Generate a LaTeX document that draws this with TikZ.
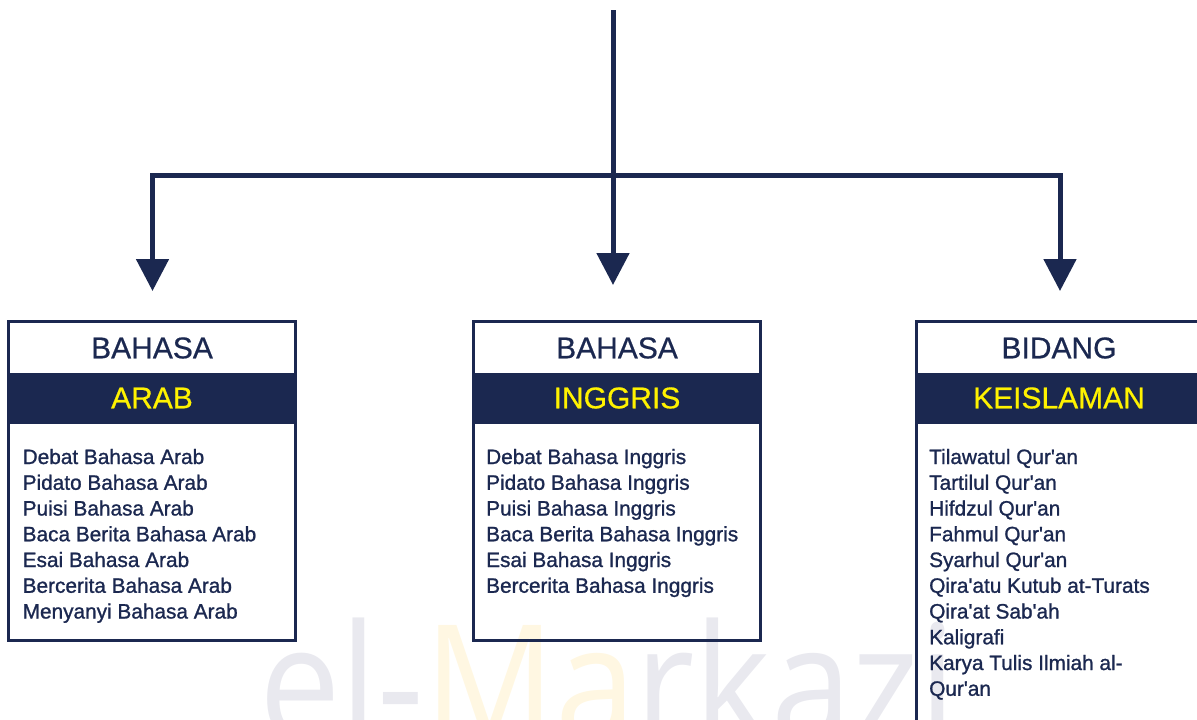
\documentclass[tikz,border=0pt]{standalone}
\usepackage{fontspec}
\setmainfont{Liberation Sans}
\newfontfamily\medfont[FakeBold=1.1]{Liberation Sans}
\newfontfamily\headfont[FakeBold=0.6]{Liberation Sans}
\newfontfamily\wmfont{Open Sans}
\usetikzlibrary{arrows.meta}
\definecolor{navy}{HTML}{1B2850}
\definecolor{hyellow}{HTML}{FFF200}
\definecolor{wmgray}{HTML}{E9E9EF}
\definecolor{wmyellow}{HTML}{FFF7E2}
\tikzset{
  conn/.style={draw=navy, line width=5pt, line join=miter},
  arr/.style={conn, -{Triangle[width=32pt,length=32pt]}},
  box/.style={draw=navy, line width=2.5pt, rectangle, inner sep=0pt, outer sep=0pt, minimum width=287pt, anchor=north west},
  band/.style={fill=navy, rectangle, inner sep=0pt, outer sep=0pt, minimum width=287pt, minimum height=51pt, anchor=north west},
  headtxt/.style={anchor=base, inner sep=0pt, text=navy, font=\headfont\fontsize{30}{36}\selectfont},
  bandtxt/.style={anchor=base, inner sep=0pt, text=hyellow, font=\headfont\fontsize{30}{36}\selectfont},
  item/.style={anchor=base west, inner sep=0pt, text=navy, font=\medfont\fontsize{20.8}{25}\selectfont},
}
\begin{document}
\begin{tikzpicture}[x=1pt,y=-1pt]
\useasboundingbox (0,0) rectangle (1197,720);
\clip (0,0) rectangle (1197,720);
% watermark
\node[anchor=base west, inner sep=0pt, xscale=0.885, font=\wmfont\fontsize{164}{170}\selectfont] (wm) at (259,742)
  {\textcolor{wmgray}{el-}\textcolor{wmyellow}{Ma}\textcolor{wmgray}{rkazi}};
% boxes
\node[box, minimum height=319pt] (boxA) at (8.5,321.5) {};
\node[box, minimum height=319pt] (boxB) at (473.5,321.5) {};
\node[box, minimum height=450pt] (boxC) at (916.5,321.5) {};
\node[band] (bandA) at (8.5,373) {};
\node[band] (bandB) at (473.5,373) {};
\node[band] (bandC) at (916.5,373) {};
% headers
\node[headtxt] (hA) at (152,358.3) {BAHASA};
\node[bandtxt] (tA) at (152,408.3) {ARAB};
\node[headtxt] (hB) at (617,358.3) {BAHASA};
\node[bandtxt] (tB) at (617,408.3) {INGGRIS};
\node[headtxt] (hC) at (1059,358.3) {BIDANG};
\node[bandtxt] (tC) at (1059,408.3) {KEISLAMAN};
% lists
\foreach \t [count=\i from 0] in {Debat Bahasa Arab,Pidato Bahasa Arab,Puisi Bahasa Arab,Baca Berita Bahasa Arab,Esai Bahasa Arab,Bercerita Bahasa Arab,Menyanyi Bahasa Arab}
  \node[item] (a\i) at (22.5,464+25.75*\i) {\t};
\foreach \t [count=\i from 0] in {Debat Bahasa Inggris,Pidato Bahasa Inggris,Puisi Bahasa Inggris,Baca Berita Bahasa Inggris,Esai Bahasa Inggris,Bercerita Bahasa Inggris}
  \node[item] (b\i) at (486,464+25.75*\i) {\t};
\foreach \t [count=\i from 0] in {Tilawatul Qur\textquotesingle an,Tartilul Qur\textquotesingle an,Hifdzul Qur\textquotesingle an,Fahmul Qur\textquotesingle an,Syarhul Qur\textquotesingle an,Qira\textquotesingle atu Kutub at-Turats,Qira\textquotesingle at Sab\textquotesingle ah,Kaligrafi,Karya Tulis Ilmiah al-,Qur\textquotesingle an}
  \node[item] (c\i) at (929,464+25.75*\i) {\t};
% connectors
\coordinate (top) at (613,10);
\coordinate (hub) at (613,175);
\coordinate (tipA) at (152.5,291);
\coordinate (tipB) at (613,285);
\coordinate (tipC) at (1060,291);
\draw[conn] (top) -- (hub);
\draw[arr] (hub) -| (tipA);
\draw[arr] (hub) -| (tipC);
\draw[arr] (hub) -- (tipB);
\end{tikzpicture}
\end{document}
